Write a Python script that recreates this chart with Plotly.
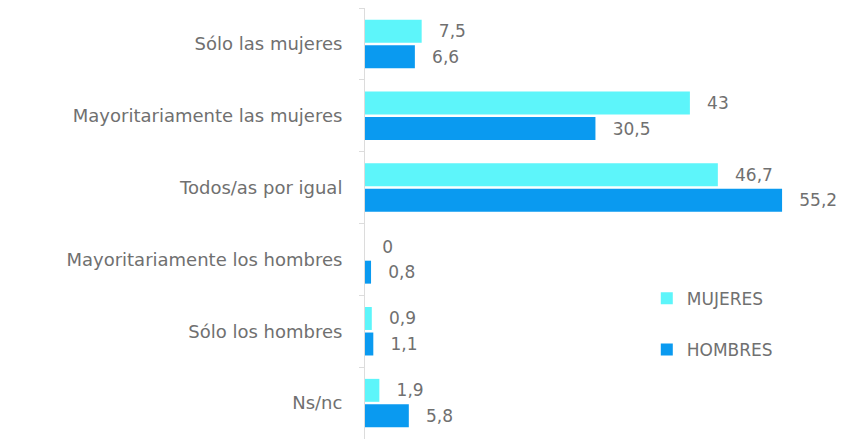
import plotly.graph_objects as go

categories = ["Sólo las mujeres", "Mayoritariamente las mujeres", "Todos/as por igual",
              "Mayoritariamente los hombres", "Sólo los hombres", "Ns/nc"]
mujeres = [7.5, 43, 46.7, 0, 0.9, 1.9]
hombres = [6.6, 30.5, 55.2, 0.8, 1.1, 5.8]
series_names = ["MUJERES", "HOMBRES"]
colors = ["#5DF5FA", "#0A9AF0"]

FONT = "DejaVu Sans"
GRAY = "#707070"

def fmt(v):
    s = ("%g" % v).replace(".", ",")
    return "\u00a0\u00a0\u2009" + s

fig = go.Figure()
for name, vals, col in zip(series_names, [mujeres, hombres], colors):
    fig.add_trace(go.Bar(
        y=categories, x=vals, name=name, orientation="h",
        marker=dict(color=col, line=dict(width=0)),
        text=[fmt(v) for v in vals], textposition="outside",
        textfont=dict(family=FONT, size=17, color=GRAY),
        cliponaxis=False, legendgroup=name, hoverinfo="skip",
    ))

# page body has an 8px default margin; size the figure so it fits the 846x440 window
fig.update_layout(
    width=838, height=432,
    margin=dict(l=357, r=5, t=0, b=1),
    paper_bgcolor="white", plot_bgcolor="white",
    barmode="group", bargap=0.29, bargroupgap=0.1,
    showlegend=True,
    legend=dict(x=0.592, xanchor="left", y=0.367, yanchor="top",
                traceorder="grouped", tracegroupgap=26,
                font=dict(family=FONT, size=17, color=GRAY),
                bgcolor="rgba(0,0,0,0)"),
    font=dict(family=FONT, size=17, color=GRAY),
)
fig.update_xaxes(range=[0, 63], visible=False, showgrid=False, zeroline=False)
fig.update_yaxes(autorange="reversed", showline=True, linecolor="#dcdcdc", linewidth=1,
                 ticks="outside", tickson="boundaries", ticklen=5, tickcolor="#dcdcdc",
                 ticklabelstandoff=18, showgrid=False,
                 tickfont=dict(family=FONT, size=18, color=GRAY))

fig.write_html("out.html")
